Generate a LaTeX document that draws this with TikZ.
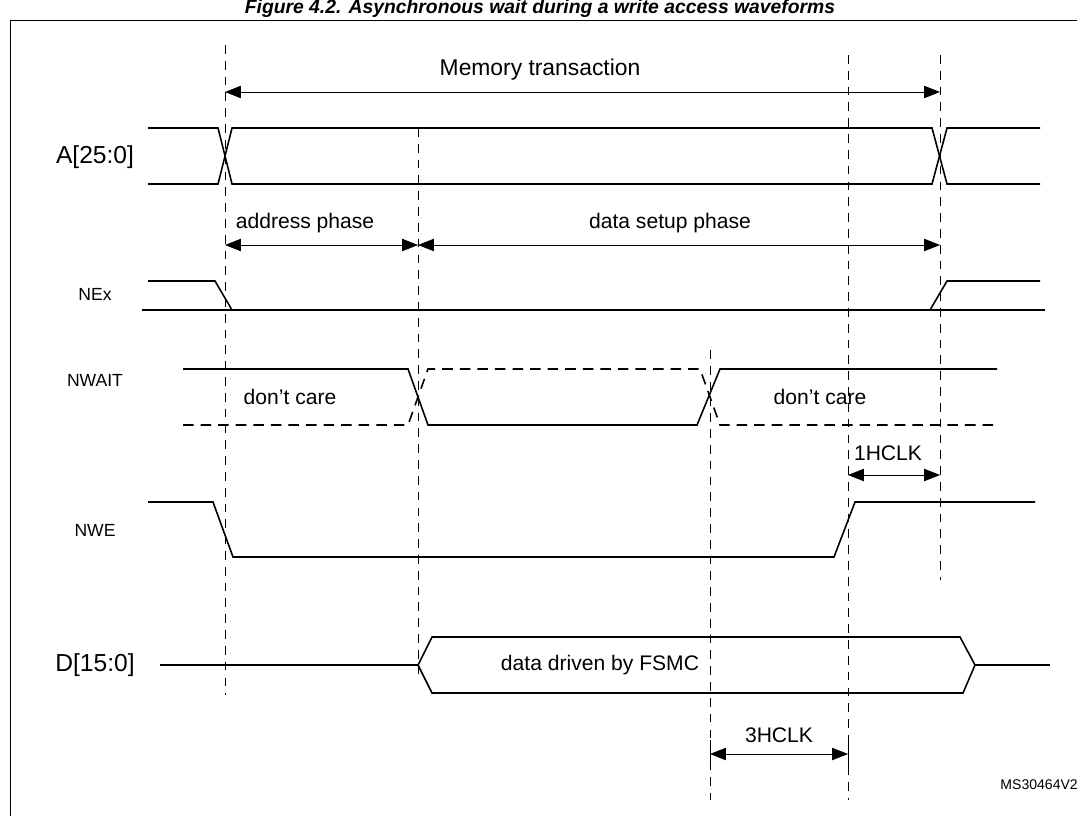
\documentclass[tikz,border=0pt]{standalone}
\usepackage{fontspec}
\setmainfont{Liberation Sans}
\usetikzlibrary{arrows.meta}
\tikzset{
  wave/.style={line width=0.9pt},
  dcare/.style={line width=0.9pt,dash pattern=on 6pt off 4pt},
  guide/.style={thin,dash pattern=on 5pt off 4pt},
  span/.style={thin,{Triangle[length=9pt,width=7pt]}-{Triangle[length=9pt,width=7pt]}},
  sig/.style={font=\fontsize{10}{12}\selectfont},
  bus/.style={font=\fontsize{14}{16}\selectfont},
  note/.style={font=\fontsize{12}{14}\selectfont}
}
\begin{document}
\begin{tikzpicture}[x=0.02cm,y=-0.02cm]
    \clip (0,0) rectangle (1077,815);
    \useasboundingbox (0,0) rectangle (1077,815);
    % Title and frame
    \node[font=\bfseries\itshape\fontsize{11}{13}\selectfont] (title) at (540,9) {Figure 4.2. Asynchronous wait during a write access waveforms};
    \draw[thin] (10,20) rectangle (1085,825);

    % Timing guides
    \draw[guide] (225,45) -- (225,695);
    \draw[guide] (418,128) -- (418,675);
    \draw[guide] (710,350) -- (710,800);
    \draw[guide] (848,55) -- (848,800);
    \draw[guide] (940,55) -- (940,580);

    % Memory transaction
    \coordinate (mtA) at (225,92); \coordinate (mtB) at (940,92);
    \draw[span] (mtA) -- (mtB);
    \node[font=\fontsize{13}{15}\selectfont] (memtr) at (540,70) {Memory transaction};

    % A[25:0]
    \node[bus] (lblA) at (95,157) {A[25:0]};
    \draw[wave] (148,128) -- (218,128) -- (232,184) -- (932,184) -- (947,128) -- (1040,128);
    \draw[wave] (148,184) -- (218,184) -- (232,128) -- (932,128) -- (947,184) -- (1040,184);

    % Phases
    \coordinate (phA) at (225,245); \coordinate (phB) at (418,245); \coordinate (phC) at (940,245);
    \draw[span] (phA) -- (phB);
    \draw[span] (phB) -- (phC);
    \node[note] (addr) at (305,223) {address phase};
    \node[note] (setup) at (670,223) {data setup phase};

    % NEx
    \node[sig] (lblNE) at (95,294) {NEx};
    \draw[wave] (148,281) -- (215,281) -- (232,310);
    \draw[wave] (142,310) -- (1045,310);
    \draw[wave] (930,310) -- (947,281) -- (1040,281);

    % NWAIT
    \node[sig] (lblNW) at (95,380) {NWAIT};
    \draw[wave] (183,369) -- (408,369) -- (428,425) -- (697,425) -- (720,369) -- (997,369);
    \draw[dcare] (183,425) -- (408,425) -- (428,369) -- (700,369) -- (720,425) -- (997,425);
    \node[note] (dc1) at (290,397) {don’t care};
    \node[note] (dc2) at (820,397) {don’t care};

    % 1HCLK
    \coordinate (hkA) at (848,475); \coordinate (hkB) at (940,475);
    \draw[span] (hkA) -- (hkB);
    \node[note] (oneclk) at (888,453) {1HCLK};

    % NWE
    \node[sig] (lblWE) at (95,530) {NWE};
    \draw[wave] (148,502) -- (213,502) -- (233,557) -- (834,557) -- (855,502) -- (1035,502);

    % D[15:0]
    \node[bus] (lblD) at (95,665) {D[15:0]};
    \draw[wave] (160,665) -- (418,665) -- (432,637) -- (960,637) -- (975,665) -- (963,693) -- (432,693) -- (418,665);
    \draw[wave] (975,665) -- (1050,665);
    \node[note] (data) at (600,665) {data driven by FSMC};

    % 3HCLK
    \draw[thin] (710,740) -- (710,770) (848,740) -- (848,770);
    \coordinate (tkA) at (710,754); \coordinate (tkB) at (848,754);
    \draw[span] (tkA) -- (tkB);
    \node[note] (threeclk) at (779,735) {3HCLK};

    \node[font=\fontsize{8}{9}\selectfont,anchor=east] (ref) at (1084,785) {MS30464V2};
\end{tikzpicture}
\end{document}
